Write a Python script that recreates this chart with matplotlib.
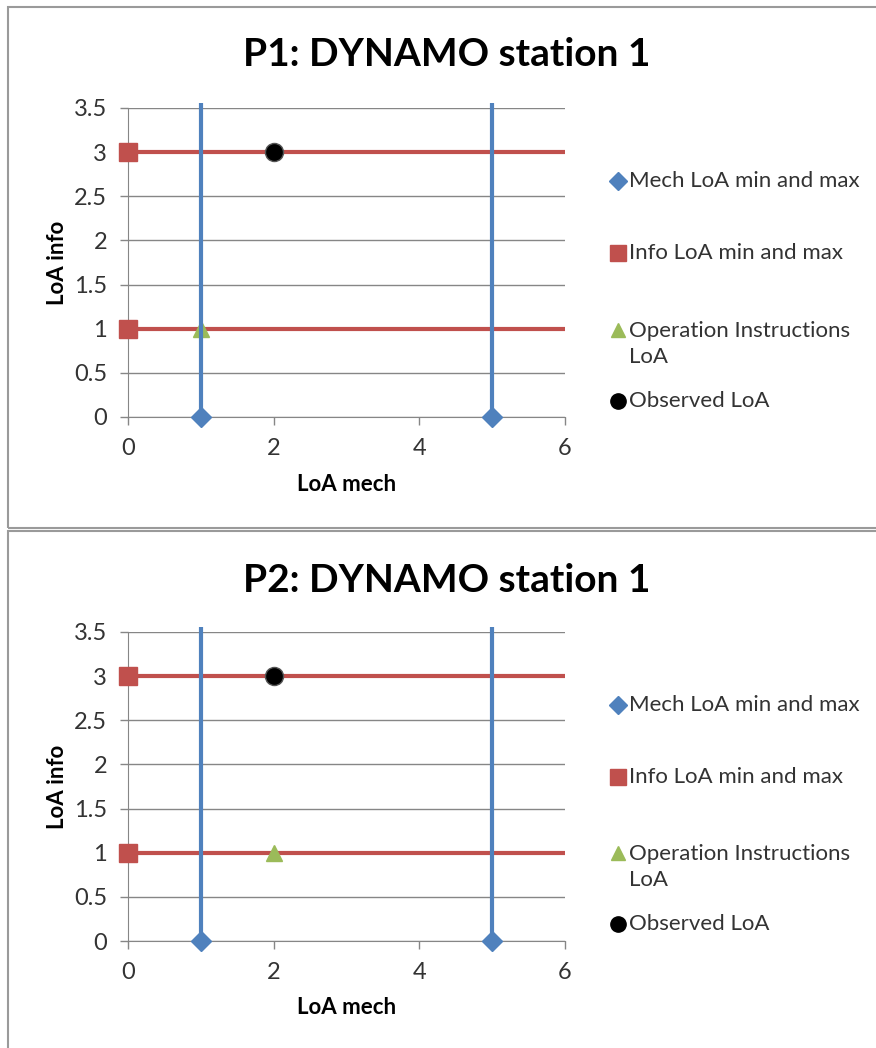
import matplotlib
matplotlib.use('Agg')
import matplotlib.pyplot as plt
from matplotlib.patches import Rectangle
from matplotlib.lines import Line2D

plt.rcParams['font.family'] = ['Lato', 'DejaVu Sans']

titles = ['P1: DYNAMO station 1', 'P2: DYNAMO station 1']

# series per panel
mech_x = [1, 5]
mech_y = [0, 0]
info_x = [0, 0]
info_y = [1, 3]
oper_x = [[1], [2]]
oper_y = [[1], [1]]
obs_x = [[2], [2]]
obs_y = [[3], [3]]

x_ticks = [0, 2, 4, 6]
y_ticks = [0, 0.5, 1, 1.5, 2, 2.5, 3, 3.5]
y_ticklabels = ['0', '0.5', '1', '1.5', '2', '2.5', '3', '3.5']
legend_labels = ['Mech LoA min and max', 'Info LoA min and max',
                 'Operation Instructions\nLoA', 'Observed LoA']

blue = '#4F81BD'
red = '#C0504D'
green = '#9BBB59'
grid_c = '#868686'

W, H = 876, 1048
fig = plt.figure(figsize=(W / 100, H / 100), dpi=100)

# panel frames (pixel values converted to figure fraction)
for top, bot in [(7, 528), (531, 1060)]:
    fig.patches.append(Rectangle((8 / W, 1 - bot / H), 1.0, (bot - top) / H,
                                 transform=fig.transFigure, fill=False,
                                 edgecolor='#9a9a9a', lw=1.5))

panels = [dict(top=108, bot=417, title=55, leg=[181, 253, 344, 401], xl=485),
          dict(top=632, bot=941, title=580, leg=[705, 777, 867, 924], xl=1008)]

for i, p in enumerate(panels):
    ah = p['bot'] - p['top']
    ax = fig.add_axes([128 / W, 1 - p['bot'] / H, 437 / W, ah / H])
    ax.set_xlim(0, 6)
    ax.set_ylim(0, 3.5)

    # error bars
    ax.errorbar(info_x, info_y, xerr=[[0, 0], [6, 6]], fmt='none', ecolor=red,
                elinewidth=3, capsize=0, zorder=3)
    ax.errorbar(mech_x, mech_y, yerr=[[0, 0], [3.56, 3.56]], fmt='none', ecolor=blue,
                elinewidth=3, capsize=0, zorder=5)[2][0].set_clip_on(False)

    ax.plot(oper_x[i], oper_y[i], linestyle='none', marker='^', ms=11,
            color=green, zorder=4, clip_on=False)
    ax.plot(mech_x, mech_y, linestyle='none', marker='D', ms=10,
            color=blue, zorder=6, clip_on=False)
    ax.plot(info_x, info_y, linestyle='none', marker='s', ms=13,
            color=red, zorder=6, clip_on=False)
    ax.plot(obs_x[i], obs_y[i], linestyle='none', marker='o', ms=13,
            color='black', mec='#555555', zorder=7, clip_on=False)

    ax.set_xticks(x_ticks)
    ax.set_yticks(y_ticks)
    ax.set_yticklabels(y_ticklabels)
    ax.tick_params(labelsize=17, length=6, width=1, direction='out')
    ax.tick_params(axis='x', colors=grid_c, labelcolor='#333333', pad=9)
    ax.tick_params(axis='y', colors=grid_c, labelcolor='#333333', pad=9)
    ax.yaxis.grid(True, color=grid_c, lw=1)
    ax.set_axisbelow(True)
    for s in ['top', 'right']:
        ax.spines[s].set_visible(False)
    for s in ['left', 'bottom']:
        ax.spines[s].set_color(grid_c)
    ax.set_ylabel('LoA info', fontsize=16, fontweight='bold')
    ax.set_xlabel('LoA mech', fontsize=16, fontweight='bold')
    ax.xaxis.set_label_coords(0.5, 1 - (p['xl'] - p['top']) / ah)
    ax.yaxis.set_label_coords((57 - 128) / 437, 0.5)
    ax.xaxis.label.set_va('center')
    ax.yaxis.label.set_va('center')

    fig.text(447 / W, 1 - p['title'] / H, titles[i], fontsize=28,
             fontweight='bold', ha='center', va='center')

    # legend, drawn by hand
    markers = [('D', blue, 9), ('s', red, 11), ('^', green, 10), ('o', 'black', 11)]
    for (m, c, ms), lab, ly in zip(markers, legend_labels, p['leg']):
        my = ly if '\n' not in lab else ly - 14
        fig.add_artist(Line2D([618 / W], [1 - my / H], marker=m, color=c, ms=ms,
                              linestyle='none', transform=fig.transFigure))
        fig.text(629 / W, 1 - ly / H, lab, fontsize=16, ha='left', va='center',
                 color='#333333', linespacing=1.35)

fig.savefig('out.png', dpi=100)
